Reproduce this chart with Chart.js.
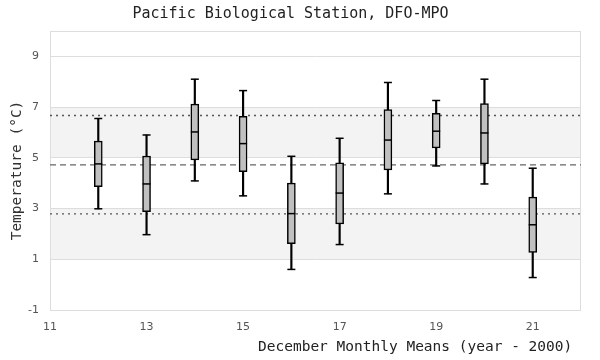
<!DOCTYPE html>
<html>
<head>
<meta charset="utf-8">
<script src="https://cdn.jsdelivr.net/npm/chart.js@4/dist/chart.umd.min.js"></script>
<style>
  html, body { margin: 0; padding: 0; background: #ffffff; }
  #wrap { width: 600px; height: 360px; }
</style>
</head>
<body>
<div id="wrap"><canvas id="c" width="600" height="360"></canvas></div>
<script>
// ---- data ----
const years        = [12, 13, 14, 15, 16, 17, 18, 19, 20, 21];
const whiskerLow   = [2.99, 1.97, 4.09, 3.50, 0.60, 1.58, 3.58, 4.68, 3.97, 0.28];
const quartile1    = [3.86, 2.88, 4.92, 4.45, 1.62, 2.39, 4.52, 5.39, 4.76, 1.27];
const medians      = [4.76, 3.97, 6.02, 5.56, 2.80, 3.61, 5.70, 6.05, 5.98, 2.36];
const quartile3    = [5.66, 5.07, 7.12, 6.64, 4.00, 4.80, 6.90, 6.75, 7.14, 3.45];
const whiskerHigh  = [6.55, 5.90, 8.10, 7.65, 5.06, 5.77, 7.97, 7.26, 8.10, 4.59];
const meanLevel    = [4.72];
const sdLevels     = [2.79, 6.67];
const bandRanges   = [[1, 3], [5, 7]];
const yTicks       = [-1, 1, 3, 5, 7, 9];
const xTicks       = [11, 13, 15, 17, 19, 21];
const xRange       = [11, 22];
const yRange       = [-1, 10];
const chartTitle   = 'Pacific Biological Station, DFO-MPO';
const xTitle       = 'December Monthly Means (year - 2000) ';
const yTitle       = 'Temperature (°C)';

Chart.defaults.font.family = "'DejaVu Sans', sans-serif";

const bandPlugin = {
  id: 'bands',
  beforeDraw(chart) {
    const {ctx, chartArea: a, scales: {y}} = chart;
    ctx.save();
    ctx.fillStyle = '#f3f3f3';
    bandRanges.forEach(([lo, hi]) => {
      const y1 = y.getPixelForValue(hi), y2 = y.getPixelForValue(lo);
      ctx.fillRect(a.left, y1, a.right - a.left, y2 - y1);
    });
    ctx.strokeStyle = '#dddddd';
    ctx.lineWidth = 1;
    ctx.strokeRect(Math.round(a.left) + 0.5, Math.round(a.top) + 0.5,
                   Math.round(a.right - a.left) - 1, Math.round(a.bottom - a.top));
    ctx.restore();
  }
};

const levelLine = (v, dash, color) => ({
  type: 'line',
  data: [{x: xRange[0], y: v}, {x: xRange[1], y: v}],
  borderColor: color,
  borderWidth: 1.4,
  borderDash: dash,
  pointRadius: 0,
  fill: false,
  order: 6
});

new Chart(document.getElementById('c'), {
  type: 'bar',
  data: {
    datasets: [
      levelLine(meanLevel[0], [6, 4], '#666666'),
      levelLine(sdLevels[0], [2, 4], '#555555'),
      levelLine(sdLevels[1], [2, 4], '#555555'),
      {
        type: 'bar',
        data: years.map((x, i) => ({x, y: [whiskerLow[i], whiskerHigh[i]]})),
        backgroundColor: '#000000',
        borderWidth: 0,
        barThickness: 1.5,
        grouped: false,
        order: 4
      },
      {
        type: 'bar',
        data: years.map((x, i) => ({x, y: [quartile1[i], quartile3[i]]})),
        backgroundColor: '#c0c0c0',
        borderColor: '#000000',
        borderWidth: 1.5,
        borderSkipped: false,
        barThickness: 8,
        grouped: false,
        order: 3
      },
      {
        type: 'line',
        data: years.map((x, i) => ({x, y: whiskerLow[i]})).concat(years.map((x, i) => ({x, y: whiskerHigh[i]}))),
        showLine: false,
        pointStyle: 'line',
        pointRadius: 4,
        pointBorderWidth: 1.5,
        pointBorderColor: '#000000',
        borderColor: '#000000',
        order: 2
      },
      {
        type: 'line',
        data: years.map((x, i) => ({x, y: medians[i]})),
        showLine: false,
        pointStyle: 'line',
        pointRadius: 4,
        pointBorderWidth: 1.5,
        pointBorderColor: '#000000',
        borderColor: '#000000',
        order: 1
      }
    ]
  },
  options: {
    responsive: false,
    animation: false,
    events: [],
    layout: { padding: { left: 0, right: 19, top: 0, bottom: 0 } },
    plugins: {
      legend: { display: false },
      tooltip: { enabled: false },
      title: {
        display: true,
        text: chartTitle,
        color: '#222222',
        font: { family: "'DejaVu Sans Mono', monospace", size: 15, weight: 'normal' },
        padding: { top: 5, bottom: 8 }
      }
    },
    scales: {
      x: {
        type: 'linear',
        min: xRange[0],
        max: xRange[1],
        offset: false,
        afterBuildTicks: s => { s.ticks = xTicks.map(v => ({value: v})); },
        afterFit: s => { s.height = 50; },
        grid: { display: false, offset: false, drawTicks: false },
        border: { display: false },
        ticks: { color: '#555555', font: { size: 11 }, padding: 11, maxRotation: 0, autoSkip: false },
        title: {
          display: true,
          text: xTitle,
          align: 'end',
          color: '#222222',
          font: { family: "'DejaVu Sans Mono', monospace", size: 14.5 },
          padding: { top: 0, bottom: 4 }
        }
      },
      y: {
        type: 'linear',
        min: yRange[0],
        max: yRange[1],
        afterBuildTicks: s => { s.ticks = yTicks.map(v => ({value: v})); },
        afterFit: s => { s.width = 50; },
        grid: { color: '#dddddd', lineWidth: 1, drawTicks: false },
        border: { display: false },
        ticks: { color: '#555555', font: { size: 11 }, padding: 11 },
        title: {
          display: true,
          text: yTitle,
          color: '#333333',
          font: { family: "'DejaVu Sans Mono', monospace", size: 14.5 },
          padding: { top: 9, bottom: 0 }
        }
      }
    }
  },
  plugins: [bandPlugin]
});
</script>
</body>
</html>
